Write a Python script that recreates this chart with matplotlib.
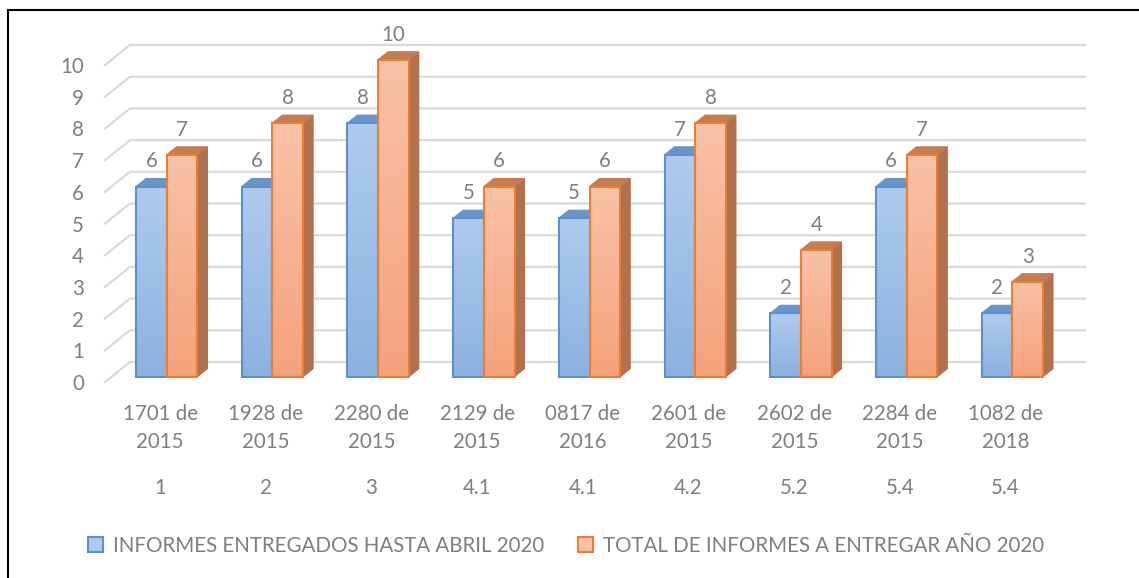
import numpy as np
import matplotlib
matplotlib.use("Agg")
import matplotlib.pyplot as plt
from matplotlib.patches import Polygon, Patch, Rectangle

plt.rcParams['font.family'] = ['Lato', 'DejaVu Sans']

# datos del gráfico
categorias = ["1701 de\n2015", "1928 de\n2015", "2280 de\n2015", "2129 de\n2015", "0817 de\n2016",
              "2601 de\n2015", "2602 de\n2015", "2284 de\n2015", "1082 de\n2018"]
numerales = ["1", "2", "3", "4.1", "4.1", "4.2", "5.2", "5.4", "5.4"]
entregados = [6, 6, 8, 5, 5, 7, 2, 6, 2]
total = [7, 8, 10, 6, 6, 8, 4, 7, 3]
series = ["INFORMES ENTREGADOS HASTA ABRIL 2020", "TOTAL DE INFORMES A ENTREGAR AÑO 2020"]
y_ticks = list(range(0, 11))

W, H, DPI = 1139, 578, 100
PX_X, PX_Y = 105.7, 31.7      # pixeles por categoria / por unidad
X0_PX, Y0_PX = 166.7, 376.7   # centro del primer grupo, base frontal de las barras
FS = 14.8

# vector de profundidad (pared izquierda/fondo) en unidades de datos
Dx, Dy = 25 / PX_X, 20 / PX_Y
F_BAR = 0.265     # posicion de la cara frontal de la barra en la profundidad
F_DEP = 0.40      # profundidad de la barra
BW = 30.7 / PX_X  # ancho de barra

TXT = '#7f7f7f'
GRID = '#d9d9d9'
estilos = [
    dict(top='#aecbee', bot='#8cb1df', edge='#5b8fcf', cap='#6a93c6', side='#5f86b8'),
    dict(top='#f9c2a6', bot='#f4a27c', edge='#ed7d31', cap='#c27d55', side='#b0714e'),
]

fig = plt.figure(figsize=(W / DPI, H / DPI), dpi=DPI)
ax = fig.add_axes([0, 0, 1, 1])
ax.set_axis_off()
xlim = (-X0_PX / PX_X, (W - X0_PX) / PX_X)
ylim = ((Y0_PX - H) / PX_Y, Y0_PX / PX_Y)

# rejilla: pared lateral y de fondo
xl_grid = -0.521
xr_grid = len(categorias) - 1 + 0.514
for v in y_ticks:
    fx, fy = xl_grid - F_BAR * Dx, v - F_BAR * Dy
    bx, by = xl_grid + (1 - F_BAR) * Dx, v + (1 - F_BAR) * Dy
    ax.plot([fx, bx, xr_grid + (1 - F_BAR) * Dx], [fy, by, by], color=GRID, lw=1.6, zorder=1,
            solid_joinstyle='miter')
    ax.text(fx - 21 / PX_X, fy - 2 / PX_Y, str(v), ha='right', va='center', color=TXT, fontsize=FS)

grad = np.linspace(0, 1, 64).reshape(-1, 1)

def barra(x_left, v, est, z):
    x_right = x_left + BW
    bdx, bdy = F_DEP * Dx, F_DEP * Dy
    # cara lateral
    side = Polygon([(x_right, 0), (x_right, v), (x_right + bdx, v + bdy), (x_right + bdx, bdy)],
                   closed=True, fc=est['side'], ec=est['side'], lw=0.8, zorder=z)
    ax.add_patch(side)
    # cara superior
    cap = Polygon([(x_left, v), (x_right, v), (x_right + bdx, v + bdy), (x_left + bdx, v + bdy)],
                  closed=True, fc=est['cap'], ec=est['cap'], lw=0.8, zorder=z)
    ax.add_patch(cap)
    # cara frontal con degradado
    rect = ax.bar(x_left, v, width=BW, align='edge', color='none', ec=est['edge'], lw=1.5,
                  zorder=z + 0.2)[0]
    cmap = matplotlib.colors.LinearSegmentedColormap.from_list('g', [est['top'], est['bot']])
    im = ax.imshow(grad, cmap=cmap, extent=(x_left, x_right, 0, v), aspect='auto',
                   origin='upper', zorder=z + 0.1, interpolation='bilinear')
    im.set_clip_path(rect)

for i in range(len(categorias)):
    barra(i - BW, entregados[i], estilos[0], 2 + i * 2)
    barra(i, total[i], estilos[1], 3 + i * 2)
    ax.text(i - BW / 2, entregados[i] + 0.79, str(entregados[i]), ha='center', va='center',
            color=TXT, fontsize=FS, zorder=40)
    ax.text(i + BW / 2, total[i] + 0.79, str(total[i]), ha='center', va='center',
            color=TXT, fontsize=FS, zorder=40)
    cx = i - F_BAR * Dx
    ax.text(cx, (Y0_PX - 428) / PX_Y, categorias[i], ha='center', va='center', color=TXT,
            fontsize=FS, linespacing=1.5)
    ax.text(cx, (Y0_PX - 488) / PX_Y, numerales[i], ha='center', va='center', color=TXT, fontsize=FS)

ax.set_xlim(*xlim)
ax.set_ylim(*ylim)

handles = [Patch(fc=estilos[k]['top'], ec=estilos[k]['edge'], lw=1.5) for k in range(2)]
fig.legend(handles, series, loc='center', bbox_to_anchor=(566 / W, 1 - 546 / H), ncol=2,
           frameon=False, fontsize=FS, labelcolor=TXT, handlelength=0.75, handleheight=0.75,
           handletextpad=0.5, columnspacing=1.6)

# marco exterior
fig.add_artist(Rectangle((8 / W, -0.1), 1.2, 1.1 - 10 / H, transform=fig.transFigure,
                         fill=False, ec='black', lw=1.5, clip_on=False))

fig.savefig('out.png', dpi=DPI)
